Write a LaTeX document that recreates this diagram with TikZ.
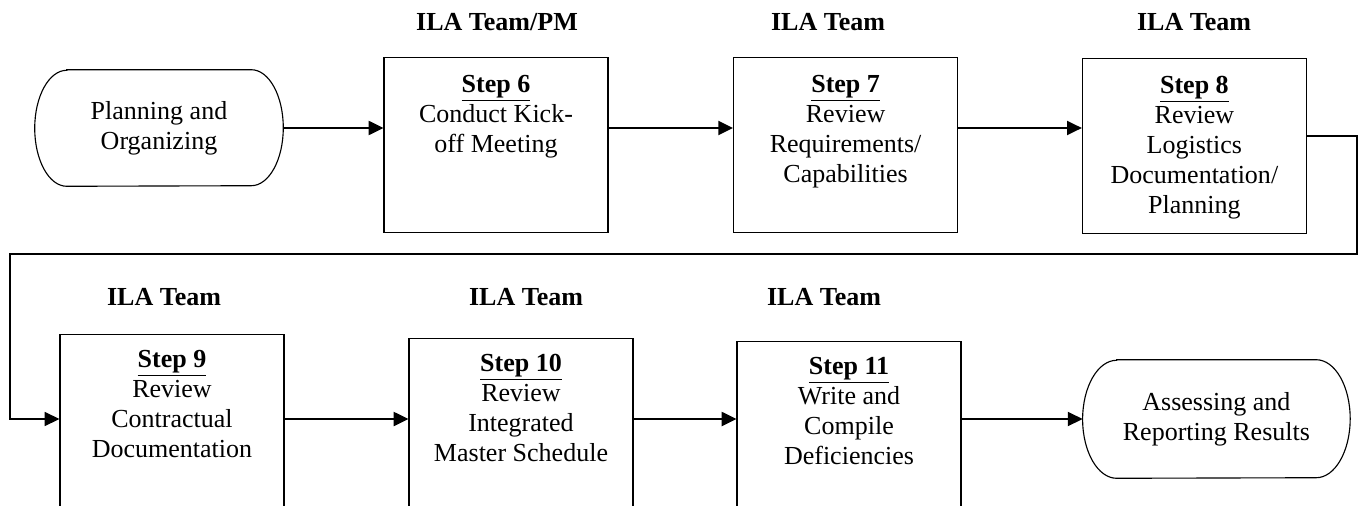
\documentclass[tikz,border=0pt]{standalone}
\usepackage{fontspec}
\setmainfont{Liberation Serif}
\usetikzlibrary{positioning, arrows.meta}

\begin{document}
\begin{tikzpicture}[
    % --- stili dei nodi e delle frecce ---
    every node/.style={font=\fontsize{18.5}{21.3}\selectfont},
    team/.style={font=\fontsize{18.5}{21.3}\selectfont\bfseries},
    stepbox/.style={draw, line width=0.8pt, minimum width=5.6cm, minimum height=4.375cm, anchor=north, inner sep=0},
    steptext/.style={align=center, inner sep=0},
    terminal/.style={minimum width=6.2cm, minimum height=2.9cm, align=center, inner sep=0},
    flow/.style={line width=1.3pt, -{Triangle[length=10.5pt, width=10pt]}}
]

% 1. Area del disegno
\useasboundingbox (0,0) rectangle (34.1,-12.65);
\clip (0,0) rectangle (34.1,-12.65);

% 2. Prima riga
\node (plan) [terminal] at (3.975,-3.2) {Planning and\\Organizing};
\draw[line width=0.8pt] ([xshift=8mm]plan.north west) -- ([xshift=-8mm]plan.north east)
    arc[start angle=90, end angle=-90, x radius=8mm, y radius=1.45cm]
    -- ([xshift=8mm]plan.south west)
    arc[start angle=270, end angle=90, x radius=8mm, y radius=1.45cm] -- cycle;

\node (t6) [team] at (12.425,-0.55) {ILA Team/PM};
\node (t7) [team] at (20.7,-0.55) {ILA Team};
\node (t8) [team] at (29.85,-0.55) {ILA Team};

\node (s6) [stepbox] at (12.4,-1.425) {};
\node (s7) [stepbox] at (21.14,-1.425) {};
\node (s8) [stepbox] at (29.86,-1.45) {};

\node (s6t) [steptext, below=0.45cm of s6.north] {\underline{\textbf{Step 6}}\\Conduct Kick-\\off Meeting};
\node (s7t) [steptext, below=0.45cm of s7.north] {\underline{\textbf{Step 7}}\\Review\\Requirements/\\Capabilities};
\node (s8t) [steptext, below=0.45cm of s8.north] {\underline{\textbf{Step 8}}\\Review\\Logistics\\Documentation/\\Planning};

\draw[flow] (plan.east) -- (plan.east -| s6.west);
\draw[flow] (plan.east -| s6.east) -- (plan.east -| s7.west);
\draw[flow] (plan.east -| s7.east) -- (plan.east -| s8.west);

% 3. Seconda riga
\node (t9) [team] at (4.1,-7.425) {ILA Team};
\node (t10) [team] at (13.15,-7.425) {ILA Team};
\node (t11) [team] at (20.6,-7.425) {ILA Team};

\node (s9) [stepbox, minimum height=5cm] at (4.3,-8.35) {};
\node (s10) [stepbox, minimum height=5cm] at (13.025,-8.45) {};
\node (s11) [stepbox, minimum height=5cm] at (21.225,-8.525) {};

\node (s9t) [steptext, below=0.4cm of s9.north] {\underline{\textbf{Step 9}}\\Review\\Contractual\\Documentation};
\node (s10t) [steptext, below=0.4cm of s10.north] {\underline{\textbf{Step 10}}\\Review\\Integrated\\Master Schedule};
\node (s11t) [steptext, below=0.4cm of s11.north] {\underline{\textbf{Step 11}}\\Write and\\Compile\\Deficiencies};

\node (assess) [terminal, minimum width=6.675cm, minimum height=2.95cm] at (30.41,-10.475) {Assessing and\\Reporting Results};
\draw[line width=0.8pt] ([xshift=8.5mm]assess.north west) -- ([xshift=-8.5mm]assess.north east)
    arc[start angle=90, end angle=-90, x radius=8.5mm, y radius=1.475cm]
    -- ([xshift=8.5mm]assess.south west)
    arc[start angle=270, end angle=90, x radius=8.5mm, y radius=1.475cm] -- cycle;

\draw[flow] (assess.west -| s9.east) -- (assess.west -| s10.west);
\draw[flow] (assess.west -| s10.east) -- (assess.west -| s11.west);
\draw[flow] (assess.west -| s11.east) -- (assess.west);

% 4. Collegamento tra le righe
\coordinate (turnR) at (33.925,-6.35);
\coordinate (turnL) at (0.25,-6.35);
\draw[flow, line width=1pt] ([yshift=2.5mm]s8.east) -| (turnR) -- (turnL) |- (assess.west -| s9.west);
\end{tikzpicture}
\end{document}
